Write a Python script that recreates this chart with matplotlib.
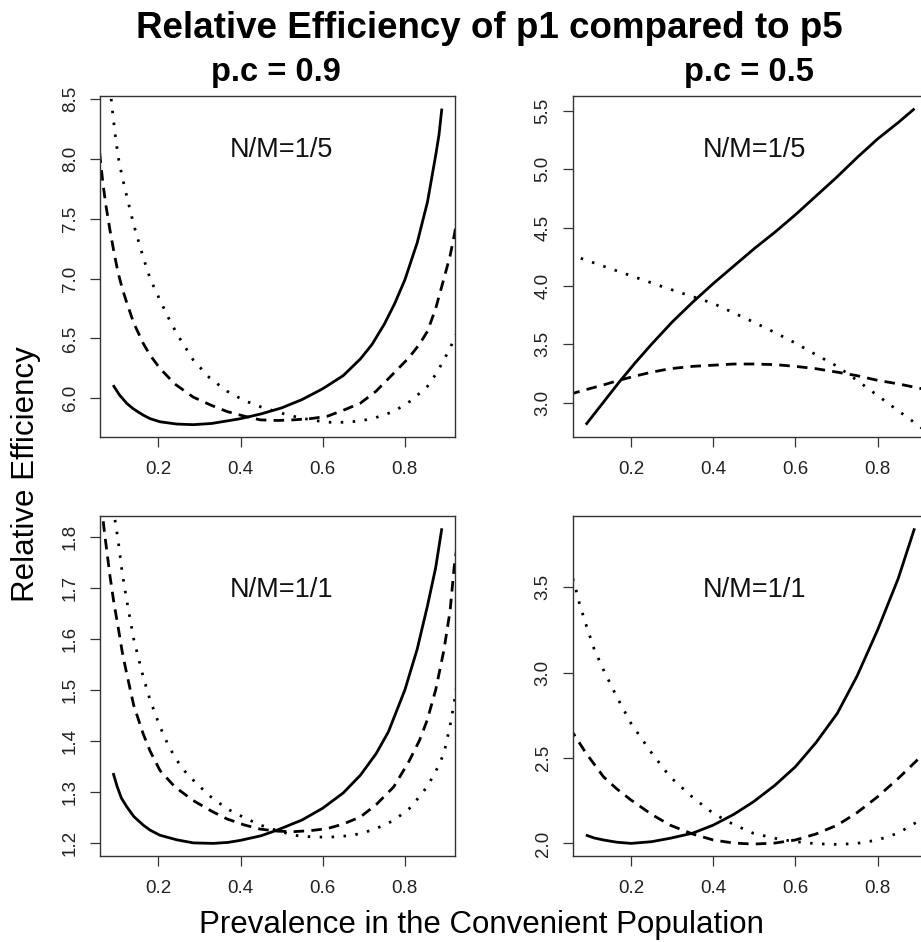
import matplotlib
matplotlib.use("Agg")
import matplotlib.pyplot as plt

plt.rcParams['font.family'] = ['Liberation Sans', 'DejaVu Sans']

# ---------------- data ----------------
# Top-left: p.c = 0.9, N/M = 1/5
tl_solid_x = [0.09, 0.105, 0.123, 0.14, 0.163, 0.18, 0.204, 0.245, 0.285, 0.33, 0.40, 0.45, 0.50, 0.55, 0.60, 0.65, 0.692, 0.72, 0.75, 0.775, 0.80, 0.83, 0.855, 0.875, 0.883, 0.89]
tl_solid_y = [6.11, 6.03, 5.958, 5.91, 5.86, 5.83, 5.804, 5.785, 5.78, 5.79, 5.83, 5.87, 5.92, 5.99, 6.08, 6.19, 6.33, 6.45, 6.62, 6.79, 6.99, 7.30, 7.64, 8.03, 8.20, 8.42]
tl_dash_x = [0.05, 0.058, 0.065, 0.072, 0.082, 0.092, 0.102, 0.112, 0.123, 0.14, 0.163, 0.18, 0.204, 0.24, 0.285, 0.33, 0.367, 0.41, 0.448, 0.49, 0.529, 0.57, 0.611, 0.65, 0.692, 0.73, 0.773, 0.81, 0.835, 0.855, 0.875, 0.895, 0.91, 0.92, 0.93]
tl_dash_y = [8.35, 8.02, 7.80, 7.62, 7.41, 7.22, 7.05, 6.92, 6.80, 6.63, 6.46, 6.36, 6.25, 6.12, 6.01, 5.94, 5.89, 5.85, 5.82, 5.815, 5.82, 5.83, 5.85, 5.90, 5.96, 6.06, 6.21, 6.34, 6.45, 6.56, 6.75, 7.00, 7.19, 7.36, 7.55]
tl_dot_x = [0.078, 0.086, 0.094, 0.102, 0.112, 0.123, 0.14, 0.163, 0.18, 0.204, 0.225, 0.245, 0.265, 0.285, 0.325, 0.367, 0.41, 0.448, 0.49, 0.529, 0.57, 0.611, 0.65, 0.692, 0.73, 0.773, 0.815, 0.855, 0.875, 0.895, 0.92, 0.93]
tl_dot_y = [8.80, 8.47, 8.23, 8.02, 7.85, 7.69, 7.45, 7.18, 7.00, 6.82, 6.67, 6.54, 6.43, 6.32, 6.17, 6.06, 5.98, 5.93, 5.885, 5.85, 5.82, 5.80, 5.80, 5.81, 5.84, 5.89, 5.98, 6.10, 6.20, 6.32, 6.49, 6.58]

# Top-right: p.c = 0.5, N/M = 1/5
tr_solid_x = [0.09, 0.13, 0.17, 0.21, 0.25, 0.30, 0.35, 0.40, 0.45, 0.50, 0.55, 0.60, 0.65, 0.70, 0.75, 0.80, 0.85, 0.89]
tr_solid_y = [2.81, 2.99, 3.17, 3.34, 3.50, 3.69, 3.86, 4.02, 4.17, 4.32, 4.46, 4.61, 4.77, 4.93, 5.10, 5.26, 5.40, 5.52]
tr_dash_x = [0.05, 0.09, 0.132, 0.17, 0.214, 0.25, 0.295, 0.35, 0.40, 0.45, 0.498, 0.55, 0.60, 0.65, 0.702, 0.75, 0.80, 0.85, 0.905, 0.93]
tr_dash_y = [3.07, 3.11, 3.15, 3.19, 3.23, 3.26, 3.29, 3.31, 3.32, 3.33, 3.33, 3.325, 3.31, 3.29, 3.26, 3.23, 3.19, 3.16, 3.12, 3.10]
tr_dot_x = [0.05, 0.075, 0.173, 0.279, 0.40, 0.498, 0.55, 0.60, 0.65, 0.702, 0.75, 0.80, 0.85, 0.889, 0.93]
tr_dot_y = [4.27, 4.24, 4.12, 3.99, 3.85, 3.69, 3.60, 3.51, 3.41, 3.31, 3.19, 3.06, 2.93, 2.83, 2.72]

# Bottom-left: p.c = 0.9, N/M = 1/1
bl_solid_x = [0.09, 0.10, 0.11, 0.123, 0.14, 0.163, 0.18, 0.204, 0.245, 0.285, 0.334, 0.37, 0.40, 0.45, 0.489, 0.55, 0.60, 0.65, 0.692, 0.73, 0.76, 0.80, 0.83, 0.855, 0.875, 0.89]
bl_solid_y = [1.337, 1.31, 1.288, 1.271, 1.252, 1.235, 1.225, 1.215, 1.206, 1.200, 1.199, 1.201, 1.205, 1.214, 1.225, 1.245, 1.268, 1.298, 1.333, 1.375, 1.418, 1.50, 1.58, 1.665, 1.74, 1.817]
bl_dash_x = [0.055, 0.062, 0.068, 0.075, 0.082, 0.092, 0.102, 0.112, 0.123, 0.14, 0.163, 0.18, 0.204, 0.24, 0.285, 0.33, 0.367, 0.41, 0.448, 0.49, 0.529, 0.57, 0.611, 0.65, 0.692, 0.73, 0.773, 0.81, 0.835, 0.854, 0.875, 0.895, 0.91, 0.92, 0.93]
bl_dash_y = [1.90, 1.86, 1.815, 1.77, 1.725, 1.67, 1.624, 1.575, 1.532, 1.47, 1.414, 1.38, 1.342, 1.31, 1.283, 1.262, 1.247, 1.235, 1.227, 1.223, 1.222, 1.224, 1.228, 1.237, 1.251, 1.275, 1.310, 1.36, 1.40, 1.440, 1.50, 1.578, 1.655, 1.741, 1.80]
bl_dot_x = [0.088, 0.094, 0.102, 0.112, 0.123, 0.14, 0.163, 0.18, 0.204, 0.225, 0.245, 0.265, 0.285, 0.325, 0.367, 0.41, 0.448, 0.49, 0.529, 0.57, 0.611, 0.65, 0.692, 0.73, 0.773, 0.815, 0.854, 0.875, 0.895, 0.91, 0.92, 0.93]
bl_dot_y = [1.88, 1.836, 1.794, 1.73, 1.676, 1.60, 1.526, 1.48, 1.428, 1.39, 1.362, 1.34, 1.323, 1.292, 1.267, 1.249, 1.235, 1.224, 1.215, 1.212, 1.211, 1.213, 1.218, 1.228, 1.244, 1.27, 1.310, 1.34, 1.375, 1.43, 1.475, 1.53]

# Bottom-right: p.c = 0.5, N/M = 1/1
br_solid_x = [0.09, 0.11, 0.133, 0.165, 0.20, 0.25, 0.295, 0.35, 0.40, 0.45, 0.498, 0.55, 0.60, 0.65, 0.702, 0.75, 0.80, 0.85, 0.89]
br_solid_y = [2.049, 2.032, 2.02, 2.007, 2.00, 2.01, 2.03, 2.06, 2.107, 2.17, 2.244, 2.34, 2.449, 2.59, 2.762, 2.98, 3.25, 3.55, 3.846]
br_dash_x = [0.05, 0.0593, 0.09, 0.133, 0.165, 0.20, 0.25, 0.295, 0.35, 0.40, 0.45, 0.498, 0.55, 0.60, 0.65, 0.702, 0.75, 0.80, 0.85, 0.905, 0.93]
br_dash_y = [2.68, 2.645, 2.53, 2.39, 2.32, 2.254, 2.17, 2.107, 2.055, 2.02, 2.002, 1.996, 2.002, 2.02, 2.055, 2.107, 2.18, 2.273, 2.38, 2.508, 2.57]
br_dot_x = [0.05, 0.0634, 0.075, 0.092, 0.11, 0.133, 0.165, 0.20, 0.25, 0.295, 0.35, 0.40, 0.45, 0.498, 0.55, 0.60, 0.65, 0.702, 0.75, 0.80, 0.85, 0.897, 0.93]
br_dot_y = [3.62, 3.51, 3.40, 3.27, 3.14, 3.016, 2.86, 2.703, 2.53, 2.39, 2.27, 2.176, 2.11, 2.059, 2.03, 2.01, 1.998, 1.994, 2.00, 2.02, 2.06, 2.127, 2.18]

x_ticks = [0.2, 0.4, 0.6, 0.8]
tl_yticks = [6.0, 6.5, 7.0, 7.5, 8.0, 8.5]
tr_yticks = [3.0, 3.5, 4.0, 4.5, 5.0, 5.5]
bl_yticks = [1.2, 1.3, 1.4, 1.5, 1.6, 1.7, 1.8]
br_yticks = [2.0, 2.5, 3.0, 3.5]

main_title = "Relative Efficiency of p1 compared to p5"
col_titles = ["p.c = 0.9", "p.c = 0.5"]
row_labels = ["N/M=1/5", "N/M=1/1"]
x_label = "Prevalence in the Convenient Population"
y_label = "Relative Efficiency"

# ---------------- figure ----------------
W, H = 921, 942
fig = plt.figure(figsize=(W / 100, H / 100), dpi=100)

def px_axes(left, top, right, bottom):
    return fig.add_axes([left / W, 1 - bottom / H, (right - left) / W, (bottom - top) / H])

ax_tl = px_axes(100, 96, 455, 437.3)
ax_tr = px_axes(572.7, 96, 927.7, 437.3)
ax_bl = px_axes(100, 515.7, 455, 856)
ax_br = px_axes(572.7, 515.7, 927.7, 856)

panels = [
    (ax_tl, tl_solid_x, tl_solid_y, tl_dash_x, tl_dash_y, tl_dot_x, tl_dot_y, tl_yticks, row_labels[0], 0.842),
    (ax_tr, tr_solid_x, tr_solid_y, tr_dash_x, tr_dash_y, tr_dot_x, tr_dot_y, tr_yticks, row_labels[0], 0.842),
    (ax_bl, bl_solid_x, bl_solid_y, bl_dash_x, bl_dash_y, bl_dot_x, bl_dot_y, bl_yticks, row_labels[1], 0.782),
    (ax_br, br_solid_x, br_solid_y, br_dash_x, br_dash_y, br_dot_x, br_dot_y, br_yticks, row_labels[1], 0.782),
]

LW = 2.0
for ax, sx, sy, dx, dy, ox, oy, yt, lab, ly in panels:
    ax.plot(sx, sy, color='black', lw=LW, solid_capstyle='butt', solid_joinstyle='round')
    ax.plot(dx, dy, color='black', lw=LW, linestyle=(0, (3.8, 2.6)), dash_capstyle='butt')
    ax.plot(ox, oy, color='black', lw=LW, linestyle=(0, (0.9, 3.4)), dash_capstyle='butt')
    # R-style 4% extension of the solid curve range
    xr = max(sx) - min(sx)
    ax.set_xlim(min(sx) - 0.04 * xr, max(sx) + 0.04 * xr)
    yr = max(sy) - min(sy)
    ax.set_ylim(min(sy) - 0.04 * yr, max(sy) + 0.04 * yr)
    ax.set_xticks(x_ticks)
    ax.set_xticklabels([f"{v:.1f}" for v in x_ticks])
    ax.set_yticks(yt)
    ax.set_yticklabels([f"{v:.1f}" for v in yt], rotation=90, va='center')
    ax.tick_params(axis='both', direction='out', length=7.2, width=0.9, color='#333333',
                   labelsize=13.5, labelcolor='#222222')
    ax.tick_params(axis='x', pad=10)
    ax.tick_params(axis='y', pad=8)
    for sp in ax.spines.values():
        sp.set_linewidth(1.0)
        sp.set_color('#333333')
    ax.text(0.5, ly, lab, transform=ax.get_xaxis_transform(), ha='center', va='center',
            fontsize=19.5, color='#111111')

fig.text(489.5 / W, 1 - 28 / H, main_title, ha='center', va='center', fontsize=26.5, fontweight='bold')
fig.text(276 / W, 1 - 72 / H, col_titles[0], ha='center', va='center', fontsize=23.5, fontweight='bold')
fig.text(749 / W, 1 - 72 / H, col_titles[1], ha='center', va='center', fontsize=23.5, fontweight='bold')
fig.text(26 / W, 1 - 474 / H, y_label, ha='center', va='center', rotation=90, fontsize=22.5)
fig.text(481 / W, 1 - 925 / H, x_label, ha='center', va='center', fontsize=22.5)

fig.savefig("out.png", dpi=100)
